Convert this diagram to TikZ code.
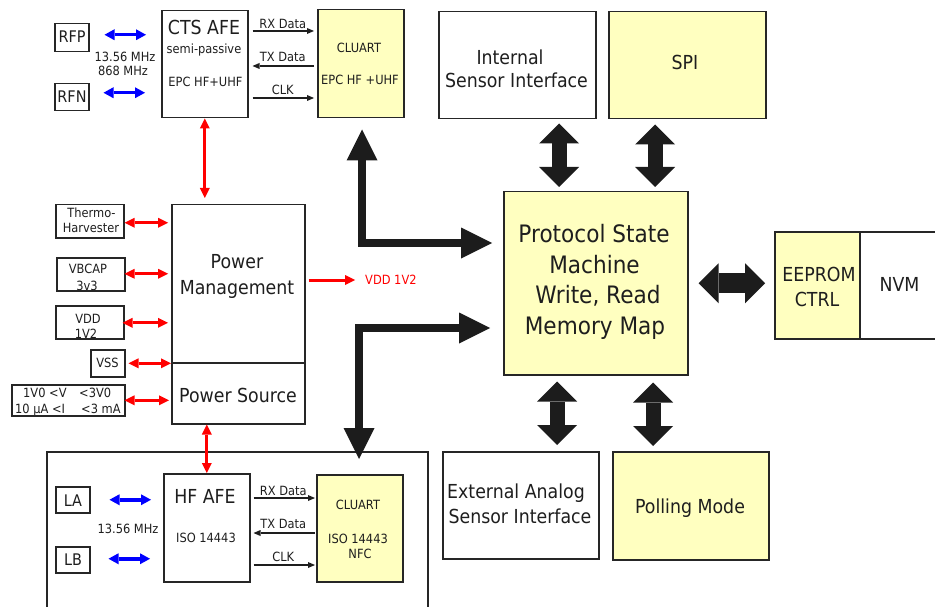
\documentclass[tikz,border=0pt]{standalone}
\usepackage{fontspec}
\setmainfont{DejaVu Sans}[FakeStretch=0.9]
\usetikzlibrary{arrows.meta}

\definecolor{ink}{HTML}{1E1E1E}
\definecolor{edge}{HTML}{262626}
\definecolor{paleyellow}{HTML}{FFFFC0}
\definecolor{busblack}{HTML}{1C1C1C}
\definecolor{pwrred}{HTML}{FF0000}
\definecolor{rfblue}{HTML}{0000FF}

\begin{document}
\begin{tikzpicture}[x=1pt,y=-1pt,
  box/.style={draw=edge, line width=1.5pt, inner sep=0pt, anchor=north west},
  ybox/.style={box, fill=paleyellow},
  lbl/.style={inner sep=0pt, anchor=base, text=ink},
  fbig/.style={font=\fontsize{19.3}{23}\selectfont},
  fhuge/.style={font=\fontsize{24}{30}\selectfont},
  fpin/.style={font=\fontsize{16}{19}\selectfont},
  fsmall/.style={font=\fontsize{12.7}{15}\selectfont},
  rfarrow/.style={draw=rfblue, line width=3.5pt,
    {Triangle[length=10pt,width=11pt,line width=0pt]}-{Triangle[length=10pt,width=11pt,line width=0pt]}},
  pwrarrow/.style={draw=pwrred, line width=3pt,
    {Triangle[length=10pt,width=10pt,line width=0pt]}-{Triangle[length=10pt,width=10pt,line width=0pt]}},
  pwrout/.style={draw=pwrred, line width=3pt,
    -{Triangle[length=10pt,width=10pt,line width=0pt]}},
  sigarrow/.style={draw=ink, line width=1.3pt,
    -{Triangle[length=7pt,width=6pt,line width=0pt]}},
  busv/.style={draw=busblack, line width=15pt,
    {Triangle[length=20pt,width=40pt,line width=0pt]}-{Triangle[length=20pt,width=40pt,line width=0pt]}},
  bush/.style={draw=busblack, line width=20pt,
    {Triangle[length=20pt,width=40pt,line width=0pt]}-{Triangle[length=20pt,width=40pt,line width=0pt]}},
  busl/.style={draw=busblack, line width=8pt, line join=miter,
    {Triangle[length=31pt,width=31pt,line width=0pt]}-{Triangle[length=31pt,width=31pt,line width=0pt]}},
]
\useasboundingbox (0,0) rectangle (935,607);

% ---------- RF front end (EPC HF + UHF) ----------
\node[box, minimum width=34pt, minimum height=28pt] (rfp) at (54,23) {};
\node[box, minimum width=34pt, minimum height=27pt] (rfn) at (54,83) {};
\node[lbl, fpin] (rfptxt) at (72,43) {RFP};
\node[lbl, fpin] (rfntxt) at (72,103) {RFN};
\node[lbl, fsmall] (fuhf1) at (125,62) {13.56 MHz};
\node[lbl, fsmall] (fuhf2) at (123,76) {868 MHz};

\node[box, minimum width=86pt, minimum height=107pt] (ctsafe) at (161,10) {};
\node[lbl, fbig] (ctstitle) at (204,35) {CTS AFE};
\node[lbl, fsmall] (ctssub) at (204,54) {semi-passive};
\node[lbl, fsmall] (ctsstd) at (205.5,87) {EPC HF+UHF};

\node[ybox, minimum width=86pt, minimum height=108pt] (cluart1) at (317,9) {};
\node[lbl, fsmall] (cl1title) at (359,53) {CLUART};
\node[lbl, fsmall] (cl1std) at (360,85) {EPC HF +UHF};

\draw[rfarrow, shorten <=15pt, shorten >=15pt]
  ([yshift=3pt]rfp.east) -- ([yshift=3pt]rfp.east -| ctsafe.west);
\draw[rfarrow, shorten <=14pt, shorten >=16pt]
  ([yshift=4.5pt]rfn.east) -- ([yshift=4.5pt]rfn.east -| ctsafe.west);

\draw[sigarrow, shorten <=4pt, shorten >=3pt]
  (ctsafe.east |- 0,31) -- (cluart1.west |- 0,31)
  node[lbl, fsmall, midway, yshift=2pt] (rx1) {RX Data};
\draw[sigarrow, shorten <=3pt, shorten >=4pt]
  (cluart1.west |- 0,66) -- (ctsafe.east |- 0,66)
  node[lbl, fsmall, midway, yshift=4pt] (tx1) {TX Data};
\draw[sigarrow, shorten <=4pt, shorten >=3pt]
  (ctsafe.east |- 0,98) -- (cluart1.west |- 0,98)
  node[lbl, fsmall, midway, yshift=3pt] (clk1) {CLK};

% ---------- power block ----------
\node[box, minimum width=133pt, minimum height=158pt] (pm) at (171,204) {};
\node[box, minimum width=133pt, minimum height=61pt] (psrc) at (171,362) {};
\node[lbl, fbig] (pmt1) at (237,268) {Power};
\node[lbl, fbig] (pmt2) at (237,294) {Management};
\node[lbl, fbig] (pst) at (238,402) {Power Source};

\node[lbl, fsmall] (thermo1) at (91.5,218) {Thermo-};
\node[lbl, fsmall] (thermo2) at (91,233) {Harvester};
\node[lbl, fsmall] (vbcap1) at (88,273) {VBCAP};
\node[lbl, fsmall] (vbcap2) at (87,290) {3v3};
\node[lbl, fsmall] (vdd1) at (88,323) {VDD};
\node[lbl, fsmall] (vdd2) at (86,338) {1V2};
\node[lbl, fsmall] (vsst) at (107.5,367) {VSS};
\node[lbl, fsmall, anchor=base west] (rng1a) at (23,397) {1V0 <V};
\node[lbl, fsmall, anchor=base west] (rng1b) at (79,397) {<3V0};
\node[lbl, fsmall, anchor=base west] (rng2a) at (15,413) {10 µA <I};
\node[lbl, fsmall, anchor=base west] (rng2b) at (81,413) {<3 mA};

\node[box, minimum width=68pt, minimum height=33pt] (thermo) at (55,204) {};
\node[box, minimum width=68pt, minimum height=33pt] (vbcap) at (56,257) {};
\node[box, minimum width=68pt, minimum height=33pt] (vdd) at (55,305) {};
\node[box, minimum width=34pt, minimum height=27pt] (vss) at (90,349) {};
\node[box, minimum width=113pt, minimum height=31pt] (range) at (11,384) {};

\draw[pwrarrow, shorten >=3pt]
  ([yshift=-1.5pt]thermo.east) -- ([yshift=-1.5pt]thermo.east -| pm.west);
\draw[pwrarrow, shorten <=-1pt, shorten >=3pt]
  ([yshift=0.5pt]vbcap.east) -- ([yshift=0.5pt]vbcap.east -| pm.west);
\draw[pwrarrow, shorten <=-2pt, shorten >=3pt]
  ([yshift=-0.5pt]vdd.east) -- ([yshift=-0.5pt]vdd.east -| pm.west);
\draw[pwrarrow, shorten <=3pt]
  (vss.east) -- (vss.east -| pm.west);
\draw[pwrarrow, shorten <=-1pt, shorten >=2pt]
  (range.east) -- (range.east -| psrc.west);

\node[lbl, fsmall, anchor=base west, text=pwrred] (vddout) at (365,284) {VDD 1V2};
\draw[pwrout, shorten <=3pt, shorten >=10pt]
  (pm.east |- 0,280) -- (vddout.west |- 0,280);

% ---------- HF front end (ISO 14443 / NFC) ----------
\draw[draw=edge, line width=2pt] (47,612) -- (47,452) -- (428,452) -- (428,612);

\node[box, minimum width=34pt, minimum height=26pt] (la) at (55,486) {};
\node[box, minimum width=34pt, minimum height=26pt] (lb) at (55,546) {};
\node[lbl, fpin] (latxt) at (73,506) {LA};
\node[lbl, fpin] (lbtxt) at (73,565) {LB};
\node[lbl, fsmall] (fhf) at (128,533) {13.56 MHz};

\node[box, minimum width=86pt, minimum height=108pt] (hfafe) at (163,473) {};
\node[lbl, fbig] (hftitle) at (205,503) {HF AFE};
\node[lbl, fsmall] (hfstd) at (206,542) {ISO 14443};

\node[ybox, minimum width=86pt, minimum height=107pt] (cluart2) at (316,474) {};
\node[lbl, fsmall] (cl2title) at (358,509) {CLUART};
\node[lbl, fsmall] (cl2std) at (358,543) {ISO 14443};
\node[lbl, fsmall] (cl2nfc) at (360,558) {NFC};

\draw[rfarrow, shorten <=19pt, shorten >=12pt]
  (la.east) -- (la.east -| hfafe.west);
\draw[rfarrow, shorten <=18pt, shorten >=13pt]
  ([yshift=1pt]lb.east) -- ([yshift=1pt]lb.east -| hfafe.west);

\draw[sigarrow, shorten <=3pt, shorten >=1pt]
  (hfafe.east |- 0,498) -- (cluart2.west |- 0,498)
  node[lbl, fsmall, midway, yshift=3pt] (rx2) {RX Data};
\draw[sigarrow, shorten <=1pt, shorten >=3pt]
  (cluart2.west |- 0,533) -- (hfafe.east |- 0,533)
  node[lbl, fsmall, midway, yshift=5pt] (tx2) {TX Data};
\draw[sigarrow, shorten <=3pt, shorten >=1pt]
  (hfafe.east |- 0,565) -- (cluart2.west |- 0,565)
  node[lbl, fsmall, midway, yshift=4pt] (clk2) {CLK};

% power links to both front ends
\draw[pwrarrow, shorten >=6pt] (ctsafe.south) -- (ctsafe.south |- pm.north);
\draw[pwrarrow] (psrc.south -| hfafe.north) -- (hfafe.north);

% ---------- digital core ----------
\node[box, minimum width=157pt, minimum height=107pt] (intsens) at (438,11) {};
\node[lbl, fbig] (ist1) at (510,65) {Internal};
\node[lbl, fbig] (ist2) at (516.5,88) {Sensor Interface};

\node[ybox, minimum width=157pt, minimum height=107pt] (spi) at (608,11) {};
\node[lbl, fbig] (spit) at (685,70) {SPI};

\node[ybox, minimum width=184pt, minimum height=183pt] (psm) at (503,191) {};
\node[lbl, fhuge] (psm1) at (594,242) {Protocol State};
\node[lbl, fhuge] (psm2) at (594.5,273) {Machine};
\node[lbl, fhuge] (psm3) at (598,303) {Write, Read};
\node[lbl, fhuge] (psm4) at (595,334) {Memory Map};

\node[ybox, minimum width=85pt, minimum height=107pt] (eeprom) at (774,231) {};
\node[box, minimum width=80pt, minimum height=107pt] (nvm) at (859,231) {};
\node[lbl, fbig] (ee1) at (819,281) {EEPROM};
\node[lbl, fbig] (ee2) at (817,306) {CTRL};
\node[lbl, fbig] (nvmt) at (899.5,291) {NVM};

\node[box, minimum width=156pt, minimum height=107pt] (extsens) at (442,451) {};
\node[lbl, fbig] (est1) at (516,498) {External Analog};
\node[lbl, fbig] (est2) at (520,523) {Sensor Interface};

\node[ybox, minimum width=156pt, minimum height=108pt] (polling) at (612,451) {};
\node[lbl, fbig] (pollt) at (690,513) {Polling Mode};

% wide bus arrows
\draw[busv, shorten <=4pt, shorten >=4pt]
  (intsens.south -| 559,0) -- (psm.north -| 559,0);
\draw[busv, shorten <=5pt, shorten >=4pt]
  (spi.south -| 655,0) -- (psm.north -| 655,0);
\draw[busv, shorten <=6pt, shorten >=6pt]
  (psm.south -| 557,0) -- (extsens.north -| 557,0);
\draw[busv, shorten <=7pt, shorten >=5pt]
  (psm.south -| 653,0) -- (polling.north -| 653,0);
\draw[bush, shorten <=10pt, shorten >=9pt]
  (psm.east) -- (psm.east -| eeprom.west);

\draw[busl, shorten <=11pt, shorten >=11pt]
  (cluart1.south -| 362,0) |- (psm.west |- 0,243);
\draw[busl, shorten <=13pt, shorten >=15pt]
  (psm.west |- 0,328) -| (cluart2.north -| 359,0);
\end{tikzpicture}
\end{document}
